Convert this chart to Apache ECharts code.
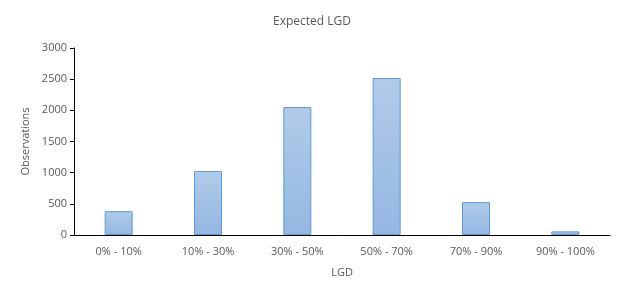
<!DOCTYPE html>
<html><head><meta charset="utf-8">
<script src="https://cdn.jsdelivr.net/npm/echarts@6/dist/echarts.min.js"></script>
<style>html,body{margin:0;padding:0;background:#fff}#c{width:624px;height:298px}</style>
</head><body><div id="c"></div>
<script>
const categories = ['0% - 10%', '10% - 30%', '30% - 50%', '50% - 70%', '70% - 90%', '90% - 100%'];
const observations = [382, 1025, 2052, 2518, 527, 58];
const yTicks = [0, 500, 1000, 1500, 2000, 2500, 3000];

const font = '"Open Sans", "Noto Sans", sans-serif';
const chart = echarts.init(document.getElementById('c'), null, {renderer: 'canvas'});
chart.setOption({
  animation: false,
  title: {text: 'Expected LGD', left: 'center', top: 11,
    textStyle: {fontFamily: font, fontSize: 12, fontWeight: 'normal', color: '#595959'}},
  grid: {left: 74, right: 14, top: 48, bottom: 63},
  xAxis: {type: 'category', data: categories, name: 'LGD', nameLocation: 'middle', nameGap: 32,
    nameTextStyle: {fontFamily: font, fontSize: 11, color: '#595959'},
    axisLine: {lineStyle: {color: '#000', width: 1}}, axisTick: {show: false},
    axisLabel: {fontFamily: font, fontSize: 11, color: '#595959', margin: 11}},
  yAxis: {type: 'value', min: yTicks[0], max: yTicks[yTicks.length - 1], interval: 500,
    name: 'Observations', nameLocation: 'middle', nameGap: 42,
    nameTextStyle: {fontFamily: font, fontSize: 11, color: '#595959'},
    axisLine: {show: true, lineStyle: {color: '#000', width: 1}},
    axisTick: {show: true, length: 4, lineStyle: {color: '#000'}},
    splitLine: {show: false},
    axisLabel: {fontFamily: font, fontSize: 11, color: '#595959', margin: 7,
      formatter: v => String(v)}},
  series: [{type: 'bar', data: observations, barWidth: 28,
    itemStyle: {borderColor: '#5b9bd5', borderWidth: 1,
      color: new echarts.graphic.LinearGradient(0, 0, 0, 1, [
        {offset: 0, color: '#b1cbe9'}, {offset: 1, color: '#94b7e2'}])}}]
});
</script></body></html>
